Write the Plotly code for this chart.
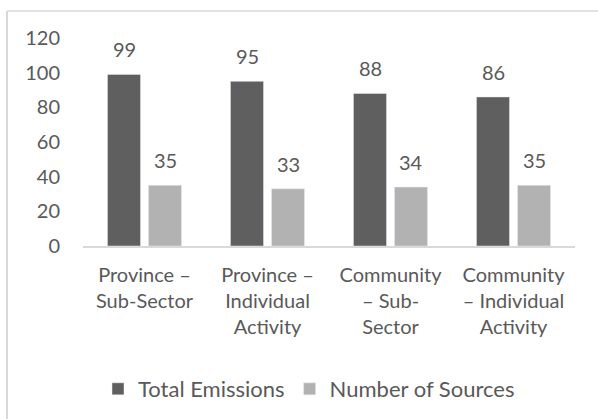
import plotly.graph_objects as go

categories = ["Province –<br>Sub-Sector", "Province –<br>Individual<br>Activity",
              "Community<br>– Sub-<br>Sector", "Community<br>– Individual<br>Activity"]
total_emissions = [99, 95, 88, 86]
number_of_sources = [35, 33, 34, 35]
y_ticks = [0, 20, 40, 60, 80, 100, 120]

FONT = "Lato"
TXT = "#595959"
DARK = "#5f5f5f"
LIGHT = "#b2b2b2"

fig = go.Figure()
fig.add_trace(go.Bar(name="Total Emissions", x=categories, y=total_emissions,
                     marker_color=DARK, hoverinfo="skip"))
fig.add_trace(go.Bar(name="Number of Sources", x=categories, y=number_of_sources,
                     marker_color=LIGHT, hoverinfo="skip"))

annotations = []
for series, shift in ((total_emissions, -20.5), (number_of_sources, 20.5)):
    for cat, val in zip(categories, series):
        annotations.append(dict(x=cat, y=val, xref="x", yref="y", text=str(val),
                                showarrow=False, xanchor="center", yanchor="bottom",
                                xshift=shift, yshift=11,
                                font=dict(size=20, color=TXT, family=FONT)))

fig.update_layout(
    width=598, height=419,
    margin=dict(l=83, r=23, t=38, b=173, autoexpand=False),
    paper_bgcolor="white", plot_bgcolor="white",
    font=dict(family=FONT, size=20, color=TXT),
    barmode="group", bargap=0.333, bargroupgap=0.195,
    showlegend=True,
    legend=dict(orientation="h", xref="container", yref="container",
                x=309 / 598, xanchor="center", y=1 - 389 / 419, yanchor="middle",
                font=dict(size=22, color=TXT, family=FONT), itemwidth=30,
                traceorder="normal"),
    xaxis=dict(showline=True, linecolor="#d9d9d9", linewidth=1.5, ticks="",
               tickfont=dict(size=20, color=TXT), showgrid=False, automargin=False,
               ticklabelstandoff=10),
    yaxis=dict(range=[0, 120], tickvals=y_ticks, showgrid=False, zeroline=False,
               showline=False, ticks="", ticklabelstandoff=22, automargin=False,
               tickfont=dict(size=20, color=TXT)),
    annotations=annotations,
    shapes=[
        dict(type="line", xref="paper", yref="paper", x0=-0.1545, x1=-0.1545, y0=-0.9, y1=1.1298,
             line=dict(color="#d9d9d9", width=2)),
        dict(type="line", xref="paper", yref="paper", x0=-0.1545, x1=1.1, y0=1.1298, y1=1.1298,
             line=dict(color="#d9d9d9", width=1.5)),
    ],
)

fig.write_html("out.html", config={"displayModeBar": False},
               post_script="document.body.style.margin='0';")
